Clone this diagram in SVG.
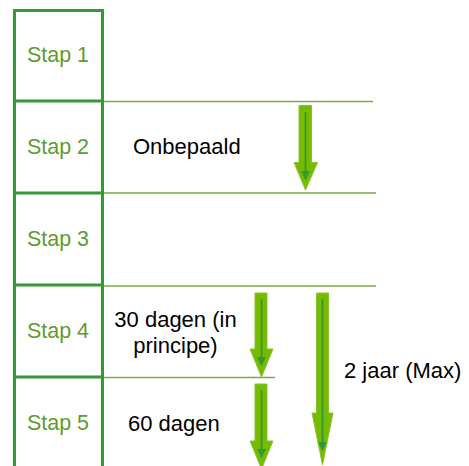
<svg xmlns="http://www.w3.org/2000/svg" width="469" height="466" viewBox="0 0 469 466">
<defs>
<style>
.box{fill:none;stroke:#339933;stroke-width:3}
.hl{stroke:#77aa44;stroke-width:1.6;fill:none}
.stap{font-family:"Liberation Sans",Arial,sans-serif;font-size:21.5px;fill:#5f9b2e;text-anchor:middle}
.lbl{font-family:"Liberation Sans",Arial,sans-serif;font-size:22px;fill:#000}
.arr{fill:#77bb00;stroke:#88c430;stroke-width:1}
.inner{stroke:#339933;stroke-width:1.8;fill:none;marker-end:url(#ah)}
</style>
<marker id="ah" viewBox="0 0 10 10" refX="9" refY="5" markerWidth="5" markerHeight="5" orient="auto" markerUnits="strokeWidth">
<path d="M0,0 L10,5 L0,10 Z" fill="#339933"/>
</marker>
</defs>
<rect width="469" height="466" fill="#ffffff"/>
<g id="stages">
<path class="box" d="M14.5,466 V10.5 H102.5 V466 M14.5,101 H102.5 M14.5,193 H102.5 M14.5,285 H102.5 M14.5,377 H102.5"/>
</g>
<g id="stap1"><text class="stap" x="58" y="62">Stap 1</text></g>
<g id="stap2"><text class="stap" x="58" y="154">Stap 2</text></g>
<g id="stap3"><text class="stap" x="58" y="246">Stap 3</text></g>
<g id="stap4"><text class="stap" x="58" y="338">Stap 4</text></g>
<g id="stap5"><text class="stap" x="58" y="430">Stap 5</text></g>
<g id="lines">
<line class="hl" x1="104" y1="101.5" x2="373" y2="101.5"/>
<line class="hl" x1="104" y1="193" x2="376" y2="193"/>
<line class="hl" x1="104" y1="286" x2="376" y2="286" stroke="#5aa020"/>
<line class="hl" x1="104" y1="377.5" x2="275" y2="377.5"/>
</g>
<g id="labels">
<text class="lbl" x="133" y="154">Onbepaald</text>
<text class="lbl" x="175.5" y="327" text-anchor="middle">30 dagen (in</text>
<text class="lbl" x="175.5" y="353" text-anchor="middle">principe)</text>
<text class="lbl" x="128" y="431">60 dagen</text>
<text class="lbl" x="344" y="378">2 jaar (Max)</text>
</g>
<g id="connectors">
<polygon class="arr" points="299,105.5 311.5,105.5 311.5,162.5 317.5,162.5 305.5,190 294,162.5 299,162.5"/>
<line class="inner" x1="305.5" y1="112" x2="305.5" y2="179"/>
<polygon class="arr" points="255,293 267,293 267,349 273,349 261.5,377 250,349 255,349"/>
<line class="inner" x1="261.5" y1="299" x2="261.5" y2="365"/>
<polygon class="arr" points="255,384 267,384 267,441 273,441 261.5,469 250,441 255,441"/>
<line class="inner" x1="261.5" y1="390" x2="261.5" y2="457"/>
<polygon class="arr" points="316.5,293 328.5,293 328.5,413 333,413 322.5,465 312,413 316.5,413"/>
<line class="inner" x1="322.5" y1="299" x2="322.5" y2="450"/>
</g>
</svg>
